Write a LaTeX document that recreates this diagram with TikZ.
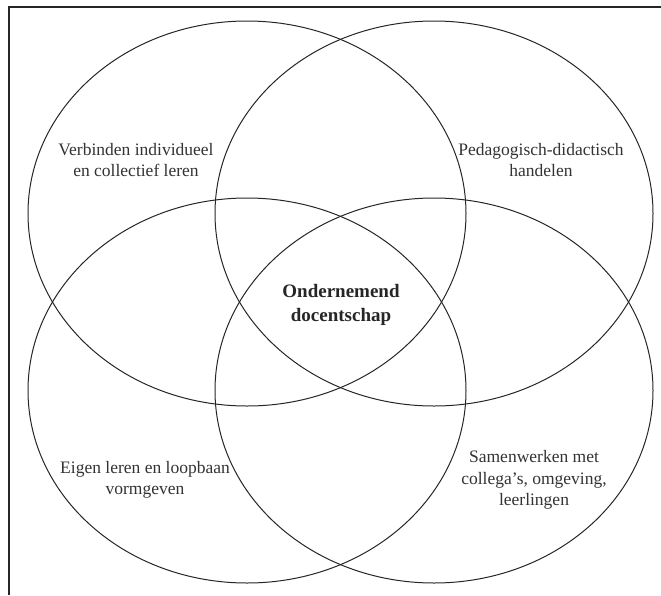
\documentclass[tikz,border=0pt]{standalone}
\usepackage{fontspec}
\setmainfont{Liberation Serif}
\begin{document}
\begin{tikzpicture}[x=1pt,y=-1pt,
  ring/.style={draw=black!85,line width=1pt},
  frameline/.style={draw=black!85,line width=1.5pt},
  label/.style={align=center,inner sep=0pt,font=\fontsize{17.5}{21.5}\selectfont,text=black!80},
  core/.style={align=center,inner sep=0pt,font=\fontsize{19}{24}\selectfont\bfseries,text=black!85}]
\useasboundingbox (0,0) rectangle (661,595);
% open frame: top and left edges only
\coordinate (fc) at (9,7);
\coordinate (ftr) at (661,7);
\coordinate (fbl) at (9,595);
\draw[frameline] (ftr) -- (fc) -- (fbl);
% four overlapping ellipses
\draw[ring] (247,213.5) ellipse [x radius=219, y radius=192.5];
\draw[ring] (434,213.5) ellipse [x radius=219, y radius=192.5];
\draw[ring] (247,390.5) ellipse [x radius=219, y radius=192.5];
\draw[ring] (434,390.5) ellipse [x radius=219, y radius=192.5];
% labels
\node[label] (tl) at (136,160) {Verbinden individueel\\en collectief leren};
\node[label] (tr) at (541,160) {Pedagogisch-didactisch\\handelen};
\node[core] (mid) at (341,305) {Ondernemend\\docentschap};
\node[label] (bl) at (145,480) {Eigen leren en loopbaan\\vormgeven};
\node[label] (br) at (534,480) {Samenwerken met\\collega's, omgeving,\\leerlingen};
\end{tikzpicture}
\end{document}
